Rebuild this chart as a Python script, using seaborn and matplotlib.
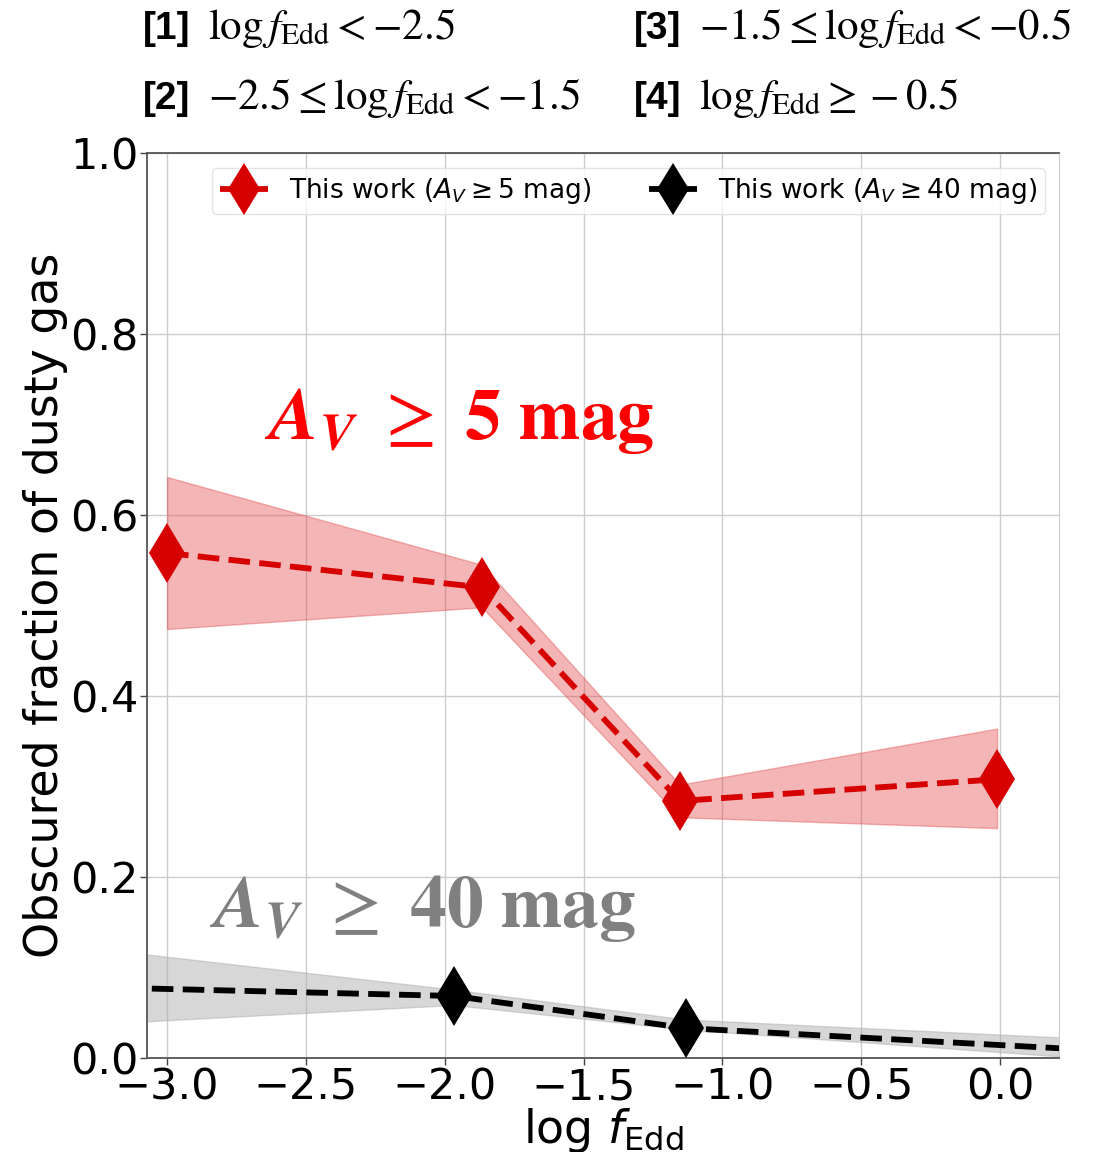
import numpy as np
import pandas as pd
import matplotlib
matplotlib.use("Agg")
import matplotlib.pyplot as plt
import seaborn as sns

# Obscured fraction vs Eddington ratio (A_V >= 5 mag)
logf_av5 = [-3.0, -1.866, -1.153, -0.011]
frac_av5 = [0.558, 0.520, 0.284, 0.308]
frac_av5_lo = [0.474, 0.498, 0.266, 0.254]
frac_av5_hi = [0.642, 0.545, 0.302, 0.364]

# Obscured fraction vs Eddington ratio (A_V >= 40 mag)
logf_av40 = [-3.5, -1.967, -1.131, 0.5]
frac_av40 = [0.080, 0.0685, 0.033, 0.006]
frac_av40_lo = [0.033, 0.058, 0.031, -0.005]
frac_av40_hi = [0.129, 0.075, 0.042, 0.018]

xticks = [-3.0, -2.5, -2.0, -1.5, -1.0, -0.5, 0.0]
yticks = [0.0, 0.2, 0.4, 0.6, 0.8, 1.0]

bin_tags = ["[1]", "[2]", "[3]", "[4]"]
bin_ranges = [
    r"$\log f_{\rm Edd} < -2.5$",
    r"$-2.5 \leq \log f_{\rm Edd} < -1.5$",
    r"$-1.5 \leq \log f_{\rm Edd} < -0.5$",
    r"$\log f_{\rm Edd} \geq -0.5$",
]

sns.set_style("whitegrid")
plt.rcParams["font.family"] = ["DejaVu Sans"]
plt.rcParams["text.color"] = "black"
plt.rcParams["axes.labelcolor"] = "black"
plt.rcParams["xtick.color"] = "black"
plt.rcParams["ytick.color"] = "black"

fig = plt.figure(figsize=(10.99, 11.52), dpi=100)
ax = fig.add_axes([0.1338, 0.0816, 0.8298, 0.7856])

red = "#d70000"
df5 = pd.DataFrame({"logf": logf_av5, "frac": frac_av5})
df40 = pd.DataFrame({"logf": logf_av40, "frac": frac_av40})

ax.fill_between(logf_av5, frac_av5_lo, frac_av5_hi, color="#e35050", alpha=0.42, lw=1, zorder=1)
ax.fill_between(logf_av40, frac_av40_lo, frac_av40_hi, color="#b0b0b0", alpha=0.5, lw=1, zorder=1)

sns.lineplot(data=df5, x="logf", y="frac", ax=ax, color=red, linestyle="--", lw=4.2,
             marker="d", markersize=31, markeredgewidth=0,
             label=r"This work ($A_V \geq 5$ mag)", zorder=3)
sns.lineplot(data=df40, x="logf", y="frac", ax=ax, color="black", linestyle="--", lw=4.2,
             marker="d", markersize=31, markeredgewidth=0,
             label=r"This work ($A_V \geq 40$ mag)", zorder=3)

ax.set_xlim(-3.072, 0.212)
ax.set_ylim(0.0, 1.0)
ax.set_xticks(xticks)
ax.set_yticks(yticks)
ax.tick_params(axis="both", labelsize=31, length=5, width=1, color="#444444",
               left=True, bottom=True, pad=1)
ax.grid(True, color="#cccccc", lw=1)
for side in ["left", "bottom", "top"]:
    ax.spines[side].set_color("#555555")
    ax.spines[side].set_linewidth(1.3)
ax.spines["right"].set_color("#cccccc")

ax.set_xlabel(r"log $f_{\rm Edd}$", fontsize=33, labelpad=-2)
ax.set_ylabel("Obscured fraction of dusty gas", fontsize=33, labelpad=2)

leg = ax.legend(loc="upper center", ncol=2, fontsize=19, frameon=True,
                handlelength=1.8, columnspacing=2.2, borderpad=0.3,
                handletextpad=0.8, markerscale=0.85,
                bbox_to_anchor=(0.528, 0.998))
leg.get_frame().set_edgecolor("#dddddd")

ax.text(-2.65, 0.706, r"$\mathbfit{A_V}\ \geq\ \mathbf{5\ mag}$", color="#ff0000",
        fontsize=53, va="center", ha="left", math_fontfamily="stix", zorder=4)
ax.text(-2.85, 0.166, r"$\mathbfit{A_V}\ \geq\ \mathbf{40\ mag}$", color="#808080",
        fontsize=53, va="center", ha="left", math_fontfamily="stix", zorder=4)

# Eddington-ratio bin legend above the axes
tag_x = [0.130, 0.130, 0.577, 0.577]
row_y = [0.966, 0.905, 0.966, 0.905]
for tag, rng, tx, ty in zip(bin_tags, bin_ranges, tag_x, row_y):
    fig.text(tx, ty, tag, fontsize=28, fontweight="bold", va="baseline", ha="left",
             family=["Liberation Sans", "DejaVu Sans"])
    fig.text(tx + 0.059, ty, rng, fontsize=31, va="baseline", ha="left",
             math_fontfamily="stix")

fig.savefig("out.png", dpi=100)
